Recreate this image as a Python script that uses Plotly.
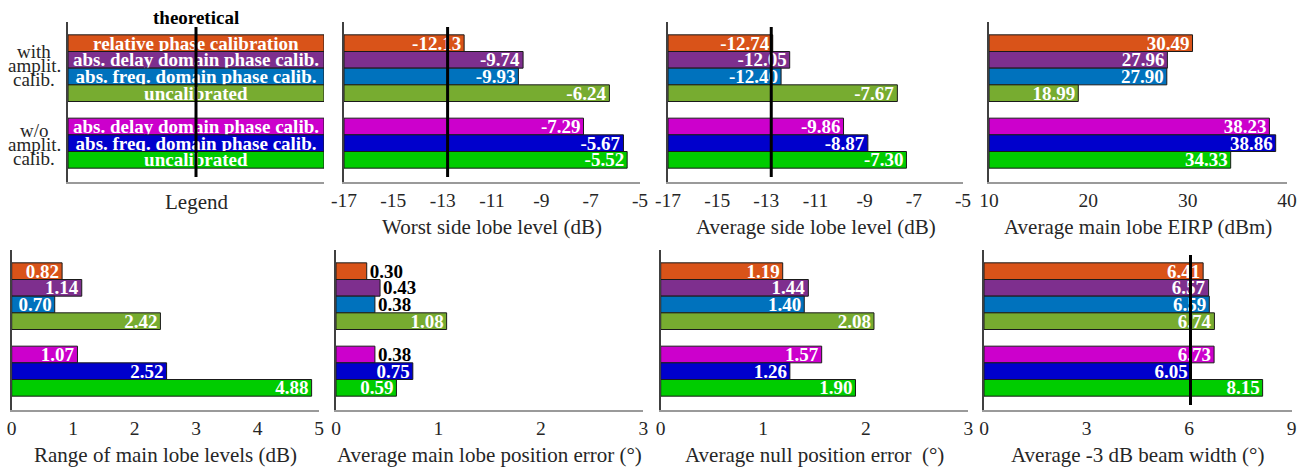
import plotly.graph_objects as go

# ---------------- data ----------------
methods = [
    "relative phase calibration",
    "abs. delay domain phase calib.",
    "abs. freq. domain phase calib.",
    "uncalibrated",
    "abs. delay domain phase calib.",
    "abs. freq. domain phase calib.",
    "uncalibrated",
]
positions = [0, 1, 2, 3, 5, 6, 7]
colors = ["#D95319", "#7E2F8E", "#0072BD", "#77AC30", "#CC00CC", "#0000CC", "#00CC00"]

worst_sll = [-12.13, -9.74, -9.93, -6.24, -7.29, -5.67, -5.52]
avg_sll = [-12.74, -12.05, -12.40, -7.67, -9.86, -8.87, -7.30]
main_eirp = [30.49, 27.96, 27.90, 18.99, 38.23, 38.86, 34.33]
range_main = [0.82, 1.14, 0.70, 2.42, 1.07, 2.52, 4.88]
main_pos_err = [0.30, 0.43, 0.38, 1.08, 0.38, 0.75, 0.59]
null_pos_err = [1.19, 1.44, 1.40, 2.08, 1.57, 1.26, 1.90]
beam_width = [6.41, 6.57, 6.59, 6.74, 6.73, 6.05, 8.15]

theo_sll = -12.8
theo_bw = 6.04

sll_ticks = [-17, -15, -13, -11, -9, -7, -5]
sll_ticktext = ["-17", "-15", "-13", "-11", "-9", "-7", "-5"]
eirp_ticks = [10, 20, 30, 40]
range_ticks = [0, 1, 2, 3, 4, 5]
err_ticks = [0, 1, 2, 3]
bw_ticks = [0, 3, 6, 9]

panels = [
    dict(vals=None, rng=[0, 1], ticks=[], title="Legend", base=0, theo=0.5),
    dict(vals=worst_sll, rng=[-17, -5], ticks=sll_ticks, ticktext=sll_ticktext,
         title="Worst side lobe level (dB)", base=-17, theo=theo_sll),
    dict(vals=avg_sll, rng=[-17, -5], ticks=sll_ticks, ticktext=sll_ticktext,
         title="Average side lobe level (dB)", base=-17, theo=theo_sll),
    dict(vals=main_eirp, rng=[10, 40], ticks=eirp_ticks,
         title="Average main lobe EIRP (dBm)", base=10, theo=None),
    dict(vals=range_main, rng=[0, 5], ticks=range_ticks,
         title="Range of main lobe levels (dB)", base=0, theo=None),
    dict(vals=main_pos_err, rng=[0, 3], ticks=err_ticks,
         title="Average main lobe position error (°)", base=0, theo=None,
         outside=[True, True, True, False, True, False, False]),
    dict(vals=null_pos_err, rng=[0, 3], ticks=err_ticks,
         title="Average null position error  (°)", base=0, theo=None),
    dict(vals=beam_width, rng=[0, 9], ticks=bw_ticks,
         title="Average -3 dB beam width (°)", base=0, theo=theo_bw),
]

W, H = 1310, 467
xdoms_px = [(68, 324), (344, 640), (668, 963), (989, 1287),
            (11.7, 319), (336, 643.3), (660.7, 968.3), (984, 1291.7)]
ydoms_px = [(22, 182)] * 4 + [(250, 410)] * 4

SERIF = "Liberation Serif"
TXT = "#262626"
fig = go.Figure()
layout = dict(
    width=W, height=H, margin=dict(l=0, r=0, t=0, b=0, autoexpand=False),
    plot_bgcolor="white", paper_bgcolor="white", showlegend=False,
    barmode="overlay", font=dict(family=SERIF, size=19, color=TXT),
)
annotations = []

YR = [8.33, -1.27]
for i, p in enumerate(panels):
    n = i + 1
    xa = "x" if n == 1 else f"x{n}"
    ya = "y" if n == 1 else f"y{n}"
    x0, x1 = xdoms_px[i]
    y0, y1 = ydoms_px[i]
    xax = dict(
        domain=[x0 / W, x1 / W], range=p["rng"], anchor=ya, automargin=False,
        tickvals=p["ticks"], showgrid=False, zeroline=False,
        showline=True, linecolor="#9a9a9a", linewidth=1.5, ticks="",
        tickfont=dict(family=SERIF, size=19.5, color=TXT),
    )
    if "ticktext" in p:
        xax["ticktext"] = p["ticktext"]
    layout["xaxis" if n == 1 else f"xaxis{n}"] = xax
    layout["yaxis" if n == 1 else f"yaxis{n}"] = dict(
        domain=[1 - y1 / H, 1 - y0 / H], range=YR, anchor=xa, automargin=False,
        showticklabels=False, showgrid=False, zeroline=False,
        showline=True, linecolor="#404040", linewidth=1.5, ticks="",
    )
    bold = dict(family=SERIF, size=19, weight="bold")
    if p["vals"] is None:
        fig.add_trace(go.Bar(
            x=[1] * len(methods), y=positions, orientation="h", width=1,
            marker=dict(color=colors, line=dict(color="#1a1a1a", width=1)),
            text=methods, textposition="inside", insidetextanchor="middle",
            textangle=0, constraintext="none",
            textfont=dict(**bold, color="white"),
            insidetextfont=dict(**bold, color="white"),
            xaxis=xa, yaxis=ya, hoverinfo="skip", cliponaxis=False,
        ))
    else:
        vals = p["vals"]
        outside = p.get("outside", [False] * len(vals))
        labels = [f"{v:.2f}" for v in vals]
        tpos = ["outside" if o else "inside" for o in outside]
        fig.add_trace(go.Bar(
            x=[v - p["base"] for v in vals], base=p["base"], y=positions,
            orientation="h", width=1,
            marker=dict(color=colors, line=dict(color="#1a1a1a", width=1)),
            text=labels, textposition=tpos, insidetextanchor="end",
            textangle=0, constraintext="none",
            textfont=dict(**bold),
            insidetextfont=dict(**bold, color="white"),
            outsidetextfont=dict(**bold, color="black"),
            xaxis=xa, yaxis=ya, hoverinfo="skip", cliponaxis=False,
        ))
    if p["theo"] is not None:
        fig.add_trace(go.Scatter(
            x=[p["theo"], p["theo"]], y=[-0.97, 8.03], mode="lines",
            line=dict(color="black", width=3), xaxis=xa, yaxis=ya,
            hoverinfo="skip", cliponaxis=False,
        ))
    ty = y1 + (45 if n > 1 else 20)
    annotations.append(dict(
        text=p["title"], xref=f"{xa} domain", x=0.5, yref="paper", y=1 - ty / H,
        showarrow=False, xanchor="center", yanchor="middle",
        font=dict(family=SERIF, size=21, color=TXT),
    ))

annotations.append(dict(
    text="<b>theoretical</b>", xref="x", x=0.5, yref="paper", y=1 - 17 / H,
    showarrow=False, xanchor="center", yanchor="middle",
    font=dict(family=SERIF, size=19, color="black"),
))
for txt, yy in [("with", 52), ("amplit.", 66), ("calib.", 80),
                ("w/o", 130), ("amplit.", 144), ("calib.", 158)]:
    annotations.append(dict(
        text=txt, xref="paper", x=34 / W, yref="paper", y=1 - yy / H,
        showarrow=False, xanchor="center", yanchor="middle",
        font=dict(family=SERIF, size=19, color=TXT),
    ))

layout["annotations"] = annotations
fig.update_layout(**layout)
fig.write_html(
    "out.html",
    config={"displayModeBar": False},
    post_script="document.body.style.margin='0';document.body.style.padding='0';",
)
